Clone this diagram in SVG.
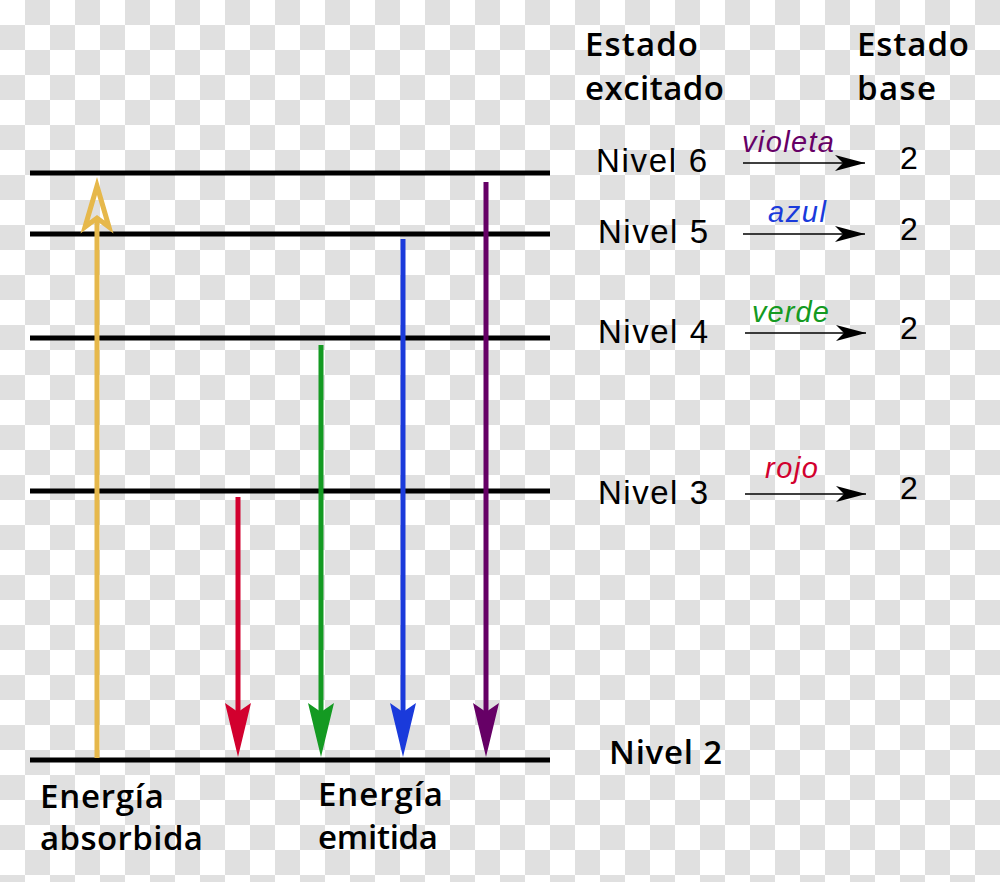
<svg xmlns="http://www.w3.org/2000/svg" width="1000" height="882" viewBox="0 0 1000 882">
<defs>
<pattern id="checker" x="0" y="0" width="50" height="50" patternUnits="userSpaceOnUse">
<rect x="0" y="0" width="50" height="50" fill="#ffffff"/>
<rect x="25" y="0" width="25" height="25" fill="#e0e0e0"/>
<rect x="0" y="25" width="25" height="25" fill="#e0e0e0"/>
</pattern>
<marker id="smallHead" viewBox="0 0 30 16" refX="30" refY="8" markerWidth="30" markerHeight="16" markerUnits="userSpaceOnUse" orient="auto">
<path d="M0,0 L30,8 L0,16 L8,8 Z" fill="#000"/>
</marker>
</defs>
<style>
.level{stroke:#000;stroke-width:5;fill:none}
.head{font-family:"Open Sans",Lato,sans-serif;font-weight:600;font-size:33px;fill:#000}
.niv{font-family:"Liberation Sans",Arial,sans-serif;font-size:33px;fill:#000}
.two{font-family:"Liberation Sans",Arial,sans-serif;font-size:32px;fill:#000}
.col{font-family:"Liberation Sans",Arial,sans-serif;font-style:italic;font-size:29px}
.small{stroke:#000;stroke-width:1.6;fill:none}
.shaft{stroke-width:5;fill:none}
</style>
<rect x="0" y="0" width="1000" height="882" fill="url(#checker)"/>

<g id="levels">
<line class="level" x1="30" y1="173" x2="550" y2="173"/>
<line class="level" x1="30" y1="234" x2="550" y2="234"/>
<line class="level" x1="30" y1="338" x2="550" y2="338"/>
<line class="level" x1="30" y1="491" x2="550" y2="491"/>
<line class="level" x1="30" y1="760" x2="550" y2="760"/>
</g>

<g id="connectors">
<g id="absorbed">
<line class="shaft" stroke="#E6B84B" x1="97" y1="758" x2="97" y2="220"/>
<path d="M85,227 L97,186 L109,227 L97,218 Z" fill="none" stroke="#E6B84B" stroke-width="5" stroke-linejoin="miter"/>
</g>
<g id="red">
<line class="shaft" stroke="#D2002E" x1="238" y1="497" x2="238" y2="715"/>
<path d="M225,703 L238,712 L251,703 L238,757 Z" fill="#D2002E"/>
</g>
<g id="green">
<line class="shaft" stroke="#149A22" x1="321" y1="345" x2="321" y2="715"/>
<path d="M308,703 L321,712 L334,703 L321,757 Z" fill="#149A22"/>
</g>
<g id="blue">
<line class="shaft" stroke="#1A3ADB" x1="403" y1="239" x2="403" y2="715"/>
<path d="M390,703 L403,712 L416,703 L403,757 Z" fill="#1A3ADB"/>
</g>
<g id="purple">
<line class="shaft" stroke="#660066" x1="486" y1="182" x2="486" y2="715"/>
<path d="M473,703 L486,712 L499,703 L486,757 Z" fill="#660066"/>
</g>
<line class="small" x1="743" y1="163" x2="865" y2="163" marker-end="url(#smallHead)"/>
<line class="small" x1="743" y1="234" x2="865" y2="234" marker-end="url(#smallHead)"/>
<line class="small" x1="745" y1="333" x2="866" y2="333" marker-end="url(#smallHead)"/>
<line class="small" x1="745" y1="494" x2="866" y2="494" marker-end="url(#smallHead)"/>
</g>

<g id="headers">
<text class="head" x="585" y="56" textLength="113" lengthAdjust="spacing">Estado</text>
<text class="head" x="585" y="100" textLength="139" lengthAdjust="spacing">excitado</text>
<text class="head" x="857" y="56" textLength="112" lengthAdjust="spacing">Estado</text>
<text class="head" x="857" y="100" textLength="79" lengthAdjust="spacing">base</text>
</g>

<g id="nivel6">
<text class="niv" x="596" y="172" textLength="111" lengthAdjust="spacing">Nivel  6</text>
<text class="col" x="742" y="152" fill="#660066" textLength="92" lengthAdjust="spacing">violeta</text>
<text class="two" x="900" y="169">2</text>
</g>
<g id="nivel5">
<text class="niv" x="598" y="243" textLength="110" lengthAdjust="spacing">Nivel 5</text>
<text class="col" x="768" y="222" fill="#1A3ADB" textLength="58" lengthAdjust="spacing">azul</text>
<text class="two" x="900" y="240">2</text>
</g>
<g id="nivel4">
<text class="niv" x="598" y="343" textLength="110" lengthAdjust="spacing">Nivel 4</text>
<text class="col" x="752" y="322" fill="#149A22" textLength="77" lengthAdjust="spacing">verde</text>
<text class="two" x="900" y="339">2</text>
</g>
<g id="nivel3">
<text class="niv" x="598" y="504" textLength="110" lengthAdjust="spacing">Nivel 3</text>
<text class="col" x="765" y="478" fill="#D2002E" textLength="53" lengthAdjust="spacing">rojo</text>
<text class="two" x="900" y="499">2</text>
</g>
<g id="nivel2">
<text class="head" x="609" y="764" textLength="113" lengthAdjust="spacing">Nivel 2</text>
</g>

<g id="labels">
<text class="head" x="40" y="808" textLength="124" lengthAdjust="spacing">Energía</text>
<text class="head" x="40" y="850" textLength="163" lengthAdjust="spacing">absorbida</text>
<text class="head" x="318" y="806" textLength="125" lengthAdjust="spacing">Energía</text>
<text class="head" x="318" y="849" textLength="120" lengthAdjust="spacing">emitida</text>
</g>
</svg>
